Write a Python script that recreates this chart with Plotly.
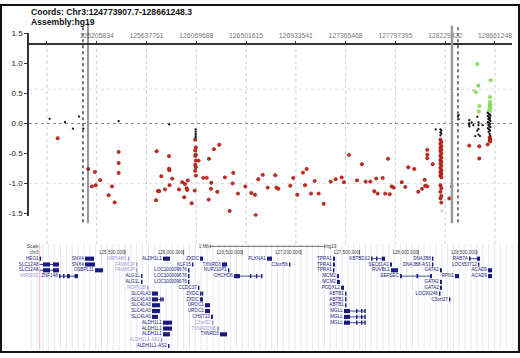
import plotly.graph_objects as go

W, H = 520, 358
FONT = "Liberation Sans, Arial, sans-serif"

# ---------------- header ----------------
coords_label = "Coords: Chr3:124773907.7-128661248.3"
assembly_label = "Assembly:hg19"

# ---------------- main plot axes (x in Mb) ----------------
x_tick_vals = [124.7739077, 125.205834, 125.637761, 126.069688, 126.501615,
               126.933541, 127.365468, 127.797395, 128.229322, 128.661248]
x_tick_text = ["", "125205834", "125637761", "126069688", "126501615",
               "126933541", "127365468", "127797395", "128229322", "128661248"]
x_range = [124.618, 128.809]
y_tick_vals = [-1.5, -1.0, -0.5, 0.0, 0.5, 1.0]
y_tick_text = ["-1.5", "-1.0", "-0.5", "0.0", "0.5", "1.0"]
y_top_tick = [1.5]
y_range = [-1.55, 1.3033]
y_top_range = [1.3033, 1.5]
grid_y_light = [0.57, -1.0]
boundary_solid = [125.130, 128.288]
boundary_dotted = [125.086, 128.340]

# ---------------- probe values ----------------
red_x = [124.867, 125.132, 125.190, 125.236, 125.164, 125.197, 125.338, 125.309, 125.361,
         125.396, 125.396, 125.396,
         125.726, 125.833, 125.833, 125.836, 125.766, 125.861, 125.838, 125.737, 125.748,
         125.798, 125.720, 125.919, 125.948, 125.971, 125.986, 125.991, 125.965, 126.030,
         125.995, 126.056,
         126.060, 126.066, 126.060, 126.066, 126.060, 126.066, 126.060, 126.066, 126.060, 126.066,
         126.090, 126.130, 126.160, 126.180, 126.223, 126.269, 126.200, 126.197, 126.177,
         126.252, 126.318, 126.359, 126.390, 126.385, 126.431, 126.495, 126.547, 126.579,
         126.585, 126.607, 126.646, 126.689, 126.755, 126.764, 126.781, 126.885, 126.911,
         126.946, 126.995, 127.027, 127.013, 127.065, 127.097, 127.131, 127.175, 127.236,
         127.279, 127.331, 127.351, 127.394, 127.464, 127.507, 127.539, 127.579, 127.614,
         127.631, 127.643, 127.687, 127.709, 127.733, 127.748, 127.765, 127.782, 127.852,
         127.883, 127.909, 127.961, 127.996, 128.028, 128.051, 128.056, 128.074, 128.074,
         128.074, 128.074, 128.121,
         128.188, 128.196, 128.188, 128.196, 128.188, 128.196, 128.188, 128.196, 128.188,
         128.196, 128.188, 128.196, 128.188, 128.196, 128.188, 128.196, 128.188, 128.196,
         128.188, 128.196, 128.188, 128.196, 128.188, 128.196, 128.188, 128.196,
         128.265, 128.438, 128.525, 128.525, 128.598, 128.616, 128.620, 128.616, 128.620]
red_y = [-0.246, -0.76, -0.81, -0.946, -1.05, -1.03, -1.05, -1.197, -1.317,
         -0.475, -0.66, -0.825,
         -0.464, -0.546, -0.754, -0.78, -0.88, -0.92, -1.03, -1.126, -1.13,
         -1.10, -1.28, -1.10, -0.98, -1.01, -1.08, -1.11, -1.23, -1.33,
         -0.95, -1.12,
         -0.27, -0.40, -0.45, -0.52, -0.54, -0.62, -0.69, -0.73, -0.79, -0.87,
         -0.62, -0.907, -0.907, -0.59, -0.43, -0.355, -0.99, -1.09, -1.27,
         -1.14, -0.90, -1.46, -0.825, -1.0, -1.17, -1.05, -1.16, -1.19,
         -1.53, -0.93, -0.857, -1.07, -0.864, -1.07, -1.09, -1.04, -0.91,
         -1.19, -0.82, -0.76, -1.03, -1.17, -0.96, -1.17, -1.34, -0.97,
         -0.93, -0.90, -0.98, -0.525, -0.95, -0.68, -0.97, -0.97, -1.13,
         -0.92, -1.17, -0.91, -1.17, -0.59, -1.18, -1.05, -1.07, -0.98,
         -1.06, -0.73, -0.76, -1.14, -1.09, -0.94, -1.04, -1.05, -0.44,
         -0.52, -0.58, -0.68,
         -0.27, -0.31, -0.34, -0.38, -0.41, -0.44, -0.46, -0.50, -0.54,
         -0.57, -0.61, -0.64, -0.67, -0.70, -0.74, -0.78, -0.81, -0.84,
         -0.87, -0.90, -1.03, -1.08, -1.14, -1.21, -1.25, -1.32,
         -1.25, -0.37, -0.38, -0.585, -0.35, -0.23, -0.26, -0.28, -0.30]

dark_x = [128.286]
dark_y = [-1.05]

black_x = [124.797, 124.930, 124.999, 125.052, 125.089, 125.396, 125.835,
           126.064, 126.064, 126.064, 126.064, 126.064,
           128.147, 128.188, 128.196, 128.188, 128.196, 128.188,
           128.346, 128.346, 128.341,
           128.438, 128.438, 128.436, 128.440, 128.459, 128.473,
           128.508, 128.508, 128.518, 128.518, 128.518, 128.518, 128.490, 128.531, 128.554,
           128.598, 128.606, 128.614, 128.622, 128.600, 128.610, 128.618, 128.604, 128.614,
           128.622, 128.600, 128.610, 128.618, 128.604, 128.614, 128.622, 128.600, 128.610,
           128.618, 128.606, 128.614, 128.620]
black_y = [0.077, 0.02, -0.087, 0.115, -0.087, 0.038, -0.016,
           -0.10, -0.137, -0.175, -0.21, -0.235,
           -0.10, -0.10, -0.12, -0.15, -0.17, -0.20,
           0.14, 0.07, 0.12,
           0.054, 0.0, -0.02, -0.05, 0.016, -0.03,
           0.11, -0.12, 0.016, -0.03, -0.093, -0.186, -0.21, -0.21, -0.03,
           0.18, 0.16, 0.15, 0.13, 0.12, 0.10, 0.09, 0.07, 0.06,
           0.04, 0.02, 0.01, -0.01, -0.03, -0.05, -0.06, -0.08, -0.10,
           -0.12, -0.14, -0.17, -0.20]

green_x = [128.508, 128.624, 128.517, 128.496, 128.618, 128.525, 128.520,
           128.618, 128.620, 128.616, 128.622, 128.612, 128.618]
green_y = [0.99, 0.72, 0.63, 0.52, 0.44, 0.29, 0.20,
           0.36, 0.32, 0.29, 0.26, 0.23, 0.21]

faint_x = [128.473, 128.200]
faint_y = [0.55, -1.46]

# ---------------- gene track (UCSC-style) ----------------
win_start = 124.773
gene_axis_ticks = [125.5, 126.0, 126.5, 127.0, 127.5, 128.0, 128.5]
gene_axis_text = ["125,500,000", "126,000,000", "126,500,000", "127,000,000",
                  "127,500,000", "128,000,000", "128,500,000"]
scale_bar = [126.225, 127.205]

gene_name = ["HEG1", "SNX4", "MIR548I1", "ALDH1L1", "ZXDC", "PLXNA1", "TPRA1", "KBTBD12", "DNAJB8", "RAB7A",
             "SLC12A8", "SNX4", "FAM86JP", "KLF15", "TXNRD3", "C3orf56", "TPRA1", "SEC61A1", "DNAJB8-AS1", "LOC653712",
             "SLC12A8", "OSBPL11", "FAM86JP", "LOC100009676", "NUP210P1", "TPRA1", "RUVBL1", "GATA2", "ACAD9",
             "MIR5092", "ZNF148", "ALG1L", "LOC100009676", "CHCHD6", "MCM2", "EEFSEC", "RPN1", "ACAD9",
             "ALG1L", "LOC100009676", "MCM2", "GATA2",
             "ROPN1B", "CCDC37", "PODXL2", "GATA2",
             "SLC41A3", "ZXDC", "ABTB1", "LOC90246",
             "SLC41A3", "ZXDC", "ABTB1", "C3orf27",
             "SLC41A3", "UROC1", "ABTB1",
             "SLC41A3", "UROC1", "MGLL",
             "SLC41A3", "CHST13", "MGLL",
             "ALDH1L1", "C3orf22", "MGLL",
             "ALDH1L1", "TXNRD3NB",
             "ALDH1L1", "TXNRD3",
             "ALDH1L1-AS1",
             "ALDH1L1-AS2"]
gene_start = [124.680, 125.159, 125.526, 125.824, 126.139, 126.711, 127.273, 127.597, 128.117, 128.433,
              124.773, 125.159, 125.594, 126.071, 126.327, 126.898, 127.273, 127.759, 128.117, 128.509,
              124.773, 125.244, 125.594, 126.037, 126.378, 127.273, 127.768, 128.185, 128.595,
              124.740, 124.937, 125.636, 126.037, 126.429, 127.307, 127.844, 128.313, 128.595,
              125.636, 126.037, 127.307, 128.185,
              125.688, 126.122, 127.342, 128.185,
              125.730, 126.139, 127.376, 128.177,
              125.730, 126.139, 127.376, 128.262,
              125.730, 126.182, 127.376,
              125.730, 126.182, 127.367,
              125.730, 126.233, 127.367,
              125.824, 126.242, 127.367,
              125.824, 126.284,
              125.824, 126.310,
              125.807,
              125.867]
gene_end = [124.784, 125.236, 125.534, 125.884, 126.165, 126.753, 127.290, 127.717, 128.128, 128.527,
            124.937, 125.244, 125.602, 126.080, 126.370, 126.907, 127.290, 127.776, 128.126, 128.518,
            124.937, 125.313, 125.602, 126.046, 126.386, 127.284, 127.828, 128.202, 128.629,
            124.745, 125.099, 125.645, 126.046, 126.668, 127.324, 128.117, 128.348, 128.629,
            125.645, 126.046, 127.333, 128.202,
            125.696, 126.131, 127.367, 128.202,
            125.781, 126.165, 127.384, 128.186,
            125.824, 126.165, 127.384, 128.271,
            125.798, 126.225, 127.384,
            125.798, 126.225, 127.546,
            125.781, 126.250, 127.546,
            125.901, 126.250, 127.546,
            125.901, 126.301,
            125.884, 126.370,
            125.815,
            125.875]
gene_row = [0, 0, 0, 0, 0, 0, 0, 0, 0, 0,
            1, 1, 1, 1, 1, 1, 1, 1, 1, 1,
            2, 2, 2, 2, 2, 2, 2, 2, 2,
            3, 3, 3, 3, 3, 3, 3, 3, 3,
            4, 4, 4, 4,
            5, 5, 5, 5,
            6, 6, 6, 6,
            7, 7, 7, 7,
            8, 8, 8,
            9, 9, 9,
            10, 10, 10,
            11, 11, 11,
            12, 12,
            13, 13,
            14,
            15]
gene_faint = [0, 0, 1, 0, 0, 0, 0, 0, 0, 0,
              0, 0, 1, 0, 0, 0, 0, 0, 0, 0,
              0, 0, 1, 0, 0, 0, 0, 0, 0,
              1, 0, 0, 0, 0, 0, 0, 0, 0,
              0, 0, 0, 0,
              1, 0, 0, 0,
              0, 0, 0, 0,
              0, 0, 0, 0,
              0, 0, 0,
              0, 0, 0,
              0, 0, 0,
              0, 1, 0,
              0, 1,
              0, 0,
              1,
              0]
gene_exons = {
    7: [(127.597, 127.610), (127.640, 127.650), (127.690, 127.717)],
    9: [(128.433, 128.440), (128.501, 128.527)],
    10: [(124.801, 124.861), (124.886, 124.937)],
    20: [(124.801, 124.861), (124.886, 124.937)],
    30: [(124.937, 124.947), (124.972, 124.980), (125.006, 125.030), (125.070, 125.099)],
    33: [(126.429, 126.480), (126.565, 126.572), (126.616, 126.622), (126.660, 126.668)],
    35: [(127.844, 127.860), (127.985, 128.000), (128.100, 128.117)],
    47: [(126.139, 126.148), (126.155, 126.165)],
    50: [(125.730, 125.781), (125.800, 125.806), (125.818, 125.824)],
    59: [(127.367, 127.418), (127.470, 127.476), (127.512, 127.518), (127.540, 127.546)],
    62: [(127.367, 127.418), (127.470, 127.476), (127.512, 127.518), (127.540, 127.546)],
    65: [(127.367, 127.418), (127.470, 127.476), (127.512, 127.518), (127.540, 127.546)],
}

NAVY = "#1a1a80"
LAV = "#9d9dd4"
ROW0, ROW_STEP = 259.0, 5.92


def py(p):
    return 1 - p / H


fig = go.Figure()

# ---------- main scatter ----------
fig.add_trace(go.Scatter(x=red_x, y=red_y, mode="markers", xaxis="x", yaxis="y",
                         marker=dict(size=3.4, color="#d3291d", line=dict(width=0.5, color="#7c1010")),
                         hoverinfo="skip"))
fig.add_trace(go.Scatter(x=dark_x, y=dark_y, mode="markers", xaxis="x", yaxis="y",
                         marker=dict(size=3.2, color="#5a1a14"), hoverinfo="skip"))
fig.add_trace(go.Scatter(x=faint_x, y=faint_y, mode="markers", xaxis="x", yaxis="y",
                         marker=dict(size=2.8, color="#d2c8e0"), hoverinfo="skip"))
fig.add_trace(go.Scatter(x=black_x, y=black_y, mode="markers", xaxis="x", yaxis="y",
                         marker=dict(size=2.3, color="#111111"), hoverinfo="skip"))
fig.add_trace(go.Scatter(x=green_x, y=green_y, mode="markers", xaxis="x", yaxis="y",
                         marker=dict(size=3.6, color="#8fe35e", line=dict(width=0.4, color="#70c848")),
                         hoverinfo="skip"))
# anchor trace for the upper y-axis segment (no visible marks)
fig.add_trace(go.Scatter(x=[x_range[0]], y=[y_top_range[0]], mode="markers", xaxis="x", yaxis="y3",
                         marker=dict(size=1, opacity=0), hoverinfo="skip"))

shapes = []
# vertical dashed gridlines
for v in x_tick_vals:
    shapes.append(dict(type="line", xref="x", yref="paper", x0=v, x1=v, y0=py(244), y1=py(42),
                       line=dict(color="#cdcdcd", width=1, dash="dot"), layer="below"))
# horizontal gridlines
for g in grid_y_light:
    shapes.append(dict(type="line", xref="paper", yref="y", x0=29 / W, x1=512 / W, y0=g, y1=g,
                       line=dict(color="#dedede", width=1, dash="dot"), layer="below"))
shapes.append(dict(type="line", xref="paper", yref="y", x0=29 / W, x1=512 / W, y0=0, y1=0,
                   line=dict(color="#8a8a8a", width=1, dash="dot"), layer="below"))
# region boundaries
shapes.append(dict(type="line", xref="x", yref="paper", x0=boundary_dotted[0], x1=boundary_dotted[0],
                   y0=py(222), y1=py(21), line=dict(color="#555555", width=1.6, dash="dot")))
shapes.append(dict(type="line", xref="x", yref="paper", x0=boundary_solid[0], x1=boundary_solid[0],
                   y0=py(223), y1=py(19), line=dict(color="#333333", width=1)))
shapes.append(dict(type="line", xref="x", yref="paper", x0=boundary_solid[1], x1=boundary_solid[1],
                   y0=py(223), y1=py(22), line=dict(color="#9a9a9a", width=2.5)))
shapes.append(dict(type="line", xref="x", yref="paper", x0=boundary_dotted[1], x1=boundary_dotted[1],
                   y0=py(222), y1=py(22), line=dict(color="#555555", width=1.6, dash="dot")))

# ---------- gene track ----------
g_lo, g_hi = 124.70, 128.85
k = 0
while g_lo + k * 0.05 <= g_hi:
    v = g_lo + k * 0.05
    shapes.append(dict(type="line", xref="x2", yref="y2", x0=v, x1=v, y0=244, y1=352,
                       line=dict(color="#e8e8f3", width=1), layer="below"))
    k += 1
shapes.append(dict(type="line", xref="x2", yref="y2", x0=win_start, x1=win_start, y0=244, y1=352,
                   line=dict(color="#f2b4b4", width=1), layer="below"))

for t in gene_axis_ticks:
    shapes.append(dict(type="line", xref="x2", yref="y2", x0=t, x1=t, y0=250, y1=255,
                       line=dict(color="#444444", width=0.8)))
shapes.append(dict(type="line", xref="x2", yref="y2", x0=scale_bar[0], x1=scale_bar[1], y0=246.5, y1=246.5,
                   line=dict(color="#444444", width=0.8)))
for s in scale_bar:
    shapes.append(dict(type="line", xref="x2", yref="y2", x0=s, x1=s, y0=244.5, y1=248.5,
                       line=dict(color="#444444", width=0.8)))

lab_x, lab_y, lab_t, lab_c = [], [], [], []
for i, name in enumerate(gene_name):
    yc = ROW0 + gene_row[i] * ROW_STEP
    col = LAV if gene_faint[i] else NAVY
    s = max(gene_start[i], win_start)
    e = gene_end[i]
    if e > s:
        if i in gene_exons:
            shapes.append(dict(type="line", xref="x2", yref="y2", x0=s, x1=e, y0=yc, y1=yc,
                               line=dict(color=col, width=0.8)))
            blocks = gene_exons[i]
        else:
            blocks = [(s, e)]
        for b0, b1 in blocks:
            shapes.append(dict(type="rect", xref="x2", yref="y2", x0=b0, x1=max(b1, b0 + 0.012),
                               y0=yc - 2.1, y1=yc + 2.1, fillcolor=col, line=dict(width=0)))
    lab_x.append(s - 0.010)
    lab_y.append(yc)
    lab_t.append(name)
    lab_c.append(LAV if gene_faint[i] else NAVY)

fig.add_trace(go.Scatter(x=lab_x, y=lab_y, text=lab_t, mode="text", xaxis="x2", yaxis="y2",
                         textposition="middle left", cliponaxis=False,
                         textfont=dict(family=FONT, size=4.6, color=lab_c), hoverinfo="skip"))
fig.add_trace(go.Scatter(x=[t - 0.004 for t in gene_axis_ticks], y=[252.6] * len(gene_axis_ticks),
                         text=gene_axis_text, mode="text", xaxis="x2", yaxis="y2",
                         textposition="middle left", cliponaxis=False,
                         textfont=dict(family=FONT, size=4.6, color="#444444"), hoverinfo="skip"))
fig.add_trace(go.Scatter(x=[win_start - 0.01, win_start - 0.01, scale_bar[0] - 0.01],
                         y=[246.8, 252.6, 246.5], text=["Scale", "chr3", "1 Mb"],
                         mode="text", xaxis="x2", yaxis="y2", textposition="middle left", cliponaxis=False,
                         textfont=dict(family=FONT, size=4.6, color="#444444"), hoverinfo="skip"))
fig.add_trace(go.Scatter(x=[scale_bar[1] + 0.01], y=[246.5], text=["hg19"],
                         mode="text", xaxis="x2", yaxis="y2", textposition="middle right", cliponaxis=False,
                         textfont=dict(family=FONT, size=4.6, color="#444444"), hoverinfo="skip"))

# outer frame
shapes.append(dict(type="rect", xref="paper", yref="paper", x0=1 / W, x1=519 / W, y0=py(354), y1=py(1),
                   line=dict(color="#111111", width=2), fillcolor="rgba(0,0,0,0)"))

annotations = [
    dict(text="<b>" + coords_label + "</b>", xref="paper", yref="paper", x=29 / W, y=py(8.5),
         xanchor="left", yanchor="middle", showarrow=False, font=dict(family=FONT, size=8.6, color="#111")),
    dict(text="<b>" + assembly_label + "</b>", xref="paper", yref="paper", x=29 / W, y=py(18.5),
         xanchor="left", yanchor="middle", showarrow=False, font=dict(family=FONT, size=8.6, color="#111")),
]

yax_style = dict(showline=True, linecolor="#333333", linewidth=1.5, ticks="outside", ticklen=3,
                 tickcolor="#333333", tickfont=dict(size=8, color="#222222"), showgrid=False,
                 zeroline=False, fixedrange=True)

fig.update_layout(
    width=W, height=H, margin=dict(l=0, r=0, t=0, b=0),
    paper_bgcolor="white", plot_bgcolor="rgba(0,0,0,0)", showlegend=False,
    font=dict(family=FONT),
    xaxis=dict(domain=[29 / W, 512 / W], range=x_range, side="top", anchor="y",
               showline=True, linecolor="#333333", linewidth=1.5, ticks="outside", ticklen=3,
               tickcolor="#333333", tickvals=x_tick_vals, ticktext=x_tick_text,
               tickfont=dict(size=6.8, color="#777777"), showgrid=False, zeroline=False, fixedrange=True),
    yaxis=dict(domain=[py(216), py(42)], range=y_range, anchor="x", tickvals=y_tick_vals,
               ticktext=y_tick_text, **yax_style),
    yaxis3=dict(domain=[py(42), py(30)], range=y_top_range, anchor="x", tickvals=y_top_tick,
                ticktext=["1.5"], **yax_style),
    xaxis2=dict(domain=[0, 1], range=[124.4344, 124.4344 + W / 117.3], anchor="y2", visible=False,
                fixedrange=True),
    yaxis2=dict(domain=[0, py(242)], range=[358, 242], anchor="x2", visible=False, fixedrange=True),
    shapes=shapes, annotations=annotations,
)

fig.write_html("out.html", config={"displayModeBar": False},
               post_script="document.body.style.margin='0';document.body.style.padding='0';")
